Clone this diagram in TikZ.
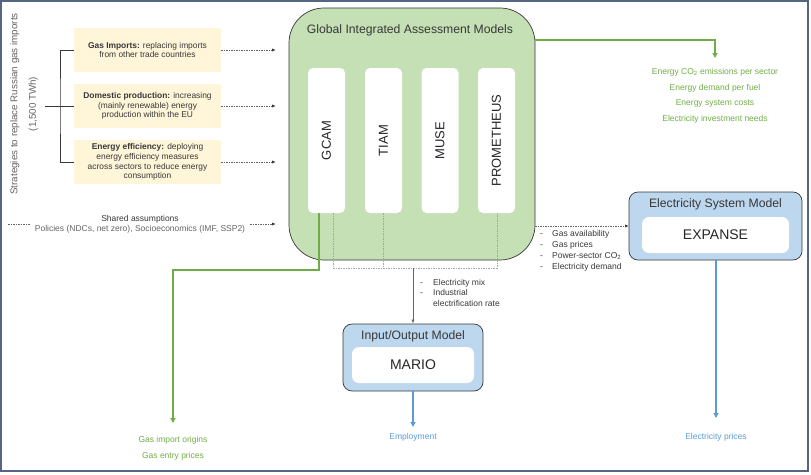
\documentclass[tikz,border=0pt]{standalone}
\usepackage{fontspec}
\setmainfont{Liberation Sans}
\usetikzlibrary{arrows.meta,positioning,calc}
\definecolor{GasFrame}{RGB}{86,101,130}
\definecolor{GasBeige}{RGB}{255,245,217}
\definecolor{GasGreen}{RGB}{112,173,71}
\definecolor{GasGreenFill}{RGB}{197,224,180}
\definecolor{GasBlue}{RGB}{91,155,213}
\definecolor{GasBlueFill}{RGB}{189,215,238}
\definecolor{GasInk}{RGB}{55,55,55}
\definecolor{GasGray}{RGB}{100,100,100}
\definecolor{GasLine}{RGB}{165,165,165}
\tikzset{
  gas/strategy/.style={
    fill=GasBeige,
    minimum width=147pt,
    minimum height=44pt,
    inner sep=2pt,
    align=center,
    text=GasInk,
    font=\fontsize{8.4}{9.8}\selectfont
  },
  gas/iam/.style={
    draw=GasInk,
    line width=0.7pt,
    fill=GasGreenFill,
    rounded corners=35pt,
    minimum width=246pt,
    minimum height=252pt
  },
  gas/model/.style={
    fill=white,
    rounded corners=5pt,
    minimum width=37pt,
    minimum height=145pt,
    inner sep=0pt,
    text=black!85,
    font=\fontsize{13}{15}\selectfont
  },
  gas/system/.style={
    draw=GasInk,
    line width=0.7pt,
    fill=GasBlueFill,
    rounded corners=9pt
  },
  gas/core/.style={
    fill=white,
    rounded corners=7pt,
    minimum height=36pt,
    text=black!85,
    font=\fontsize{14}{16}\selectfont
  },
  gas/title/.style={font=\fontsize{12.2}{14}\selectfont, text=GasInk},
  gas/side/.style={font=\fontsize{9.8}{18.5}\selectfont, text=GasGray, align=center},
  gas/shared/.style={font=\fontsize{8.5}{10}\selectfont, text=GasInk, align=center, inner xsep=5pt},
  gas/list/.style={font=\fontsize{8.5}{11}\selectfont, text=GasInk, align=left, inner sep=2pt},
  gas/greentext/.style={font=\fontsize{8.5}{15.7}\selectfont, text=GasGreen, align=center, inner sep=2pt},
  gas/bluetext/.style={font=\fontsize{8.5}{16}\selectfont, text=GasBlue, align=center, inner sep=2pt},
  gas/bracket/.style={draw=GasInk, line width=0.8pt},
  gas/dashline/.style={draw=GasGray, line width=0.5pt, dash pattern=on 1.5pt off 1pt},
  gas/dasharrow/.style={-{Latex[length=3.5pt,width=3pt,color=black!80]}, gas/dashline},
  gas/link/.style={draw=GasLine, line width=0.6pt, dash pattern=on 1.5pt off 1pt},
  gas/feed/.style={-{Latex[length=4pt,width=3pt]}, draw=GasGray, line width=0.6pt},
  gas/greenarrow/.style={-{Triangle[length=5pt,width=5pt]}, draw=GasGreen, line width=2pt},
  gas/bluearrow/.style={-{Triangle[length=5pt,width=5pt]}, draw=GasBlue, line width=2pt}
}

\begin{document}
\begin{tikzpicture}[x=1pt,y=-1pt]
  \useasboundingbox (0,0) rectangle (811,474);
  \draw[GasFrame, line width=1.2pt] (1,1) rectangle (808,471);

  % strategies
  \node[gas/side, rotate=90] (strategies) at (24,104) {Strategies to replace Russian gas imports\\(1,500 TWh)};
  \node[gas/strategy] (imports) at (147.5,50) {\textbf{Gas Imports:} replacing imports\\from other trade countries};
  \node[gas/strategy] (domestic) at (147.5,106) {\textbf{Domestic production:} increasing\\(mainly renewable) energy\\production within the EU};
  \node[gas/strategy] (efficiency) at (147.5,162) {\textbf{Energy efficiency:} deploying\\energy efficiency measures\\across sectors to reduce energy\\consumption};
  \coordinate (fork) at (60,106);
  \coordinate (stub) at (45,106);
  \draw[gas/bracket] (imports.west) -| (fork) |- (efficiency.west);
  \draw[gas/bracket] (stub) -- (domestic.west);

  \node[gas/shared] (shared) at (140,224) {Shared assumptions\\{\color{GasGray}Policies (NDCs, net zero), Socioeconomics (IMF, SSP2)}};
  \coordinate (sharedtail) at (8,224);

  % models
  \node[gas/iam] (iam) at (412,134) {};
  \node[gas/title] (iamtitle) at (410,30) {Global Integrated Assessment Models};
  \node[gas/model] (gcam) at (326.5,140.5) {\rotatebox{90}{GCAM}};
  \node[gas/model] (tiam) at (383.5,140.5) {\rotatebox{90}{TIAM}};
  \node[gas/model] (muse) at (440,140.5) {\rotatebox{90}{MUSE}};
  \node[gas/model] (prometheus) at (496.5,140.5) {\rotatebox{90}{PROMETHEUS}};

  \node[gas/system, minimum width=173pt, minimum height=68pt] (esm) at (715.5,226) {};
  \node[gas/title] (esmtitle) at (715.5,204) {Electricity System Model};
  \node[gas/core, minimum width=147pt] (expanse) at (715.5,235) {EXPANSE};

  \node[gas/system, minimum width=140pt, minimum height=67pt] (iom) at (413,357.5) {};
  \node[gas/title] (iomtitle) at (413,336) {Input/Output Model};
  \node[gas/core, minimum width=122pt] (mario) at (413,365) {MARIO};

  % inputs
  \foreach \s in {imports,domestic,efficiency}{\draw[gas/dasharrow, shorten >=13pt] (\s.east) -- (\s.east -| iam.west);}
  \draw[gas/dashline] (sharedtail) -- (shared.west);
  \draw[gas/dasharrow, shorten >=13pt] (shared.east) -- (shared.east -| iam.west);

  % links between models
  \coordinate (busleft) at (333,268);
  \coordinate (busright) at (497,268);
  \draw[gas/link] (gcam.south -| busleft) -- (busleft) -- (busright) -- (prometheus.south -| busright);
  \draw[gas/link] (tiam.south) -- (tiam.south |- busleft);
  \draw[gas/feed] (iom.north |- busleft) -- (iom.north);
  \draw[gas/dasharrow] (iam.east |- esm.west) -- (esm.west);
  \node[gas/list, anchor=north west] (gaslist) at (538,228) {\makebox[12pt][l]{-}Gas availability\\\makebox[12pt][l]{-}Gas prices\\\makebox[12pt][l]{-}Power-sector CO\textsubscript{2}\\\makebox[12pt][l]{-}Electricity demand};
  \node[gas/list, anchor=north west, font=\fontsize{8.5}{10.5}\selectfont] (mixlist) at (418,277) {\makebox[13pt][l]{-}Electricity mix\\\makebox[13pt][l]{-}Industrial\\\makebox[13pt][l]{}electrification rate};

  % outputs
  \node[gas/greentext, anchor=north] (iamout) at (715,66) {Energy CO\textsubscript{2} emissions per sector\\Energy demand per fuel\\Energy system costs\\Electricity investment needs};
  \draw[gas/greenarrow, shorten >=8pt] ($(iam.north east)+(0,32)$) -| (iamout.north);

  \coordinate (gcamknee) at (319,270);
  \node[gas/greentext, anchor=north, font=\fontsize{8.5}{16}\selectfont] (gasout) at (173,434) {Gas import origins\\Gas entry prices};
  \draw[gas/greenarrow, shorten >=11pt] (gcam.south -| gcamknee) -- (gcamknee) -| (gasout.north);

  \node[gas/bluetext, anchor=north] (empout) at (413,431) {Employment};
  \draw[gas/bluearrow, shorten >=4pt] (iom.south) -- (empout.north);
  \node[gas/bluetext, anchor=north] (priceout) at (716,431) {Electricity prices};
  \draw[gas/bluearrow, shorten >=13pt] (esm.south -| priceout.north) -- (priceout.north);
\end{tikzpicture}
\end{document}
